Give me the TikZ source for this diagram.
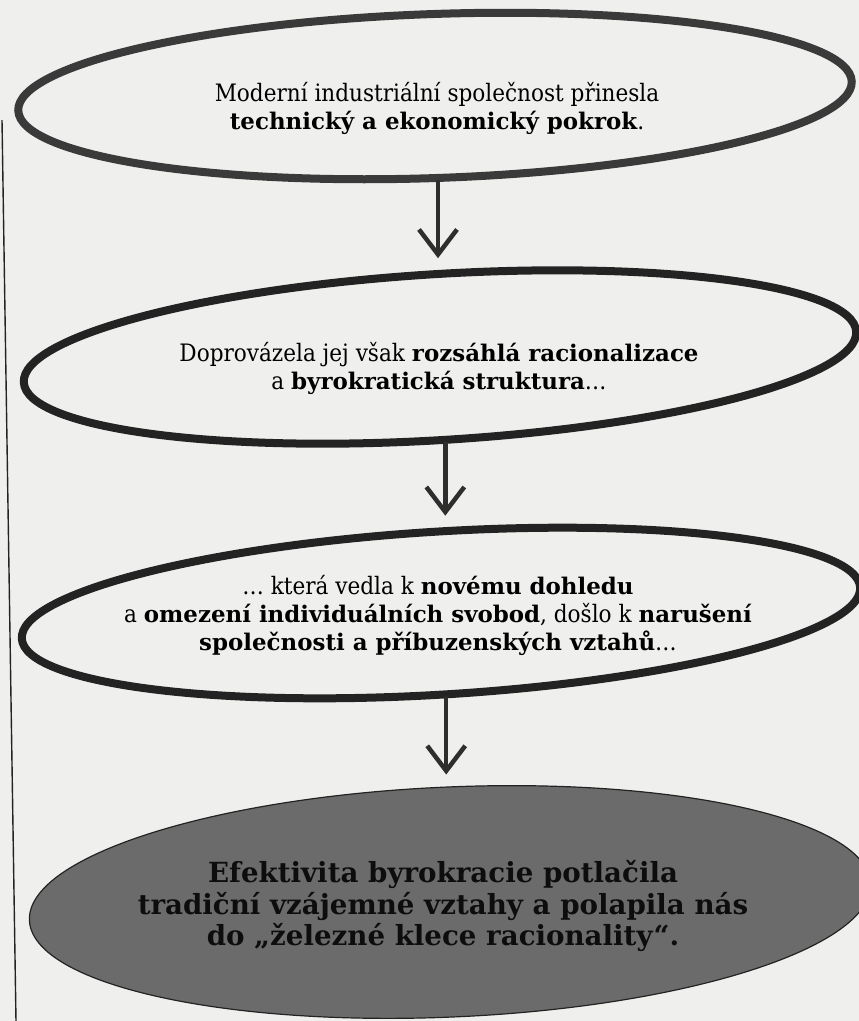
\documentclass[tikz,border=0pt]{standalone}
\usepackage{fontspec}
\setmainfont{DejaVu Serif Condensed}[BoldFont={DejaVu Serif Bold},BoldFeatures={Scale=0.955}]
\usetikzlibrary{shapes.geometric,arrows.meta}
\definecolor{paper}{HTML}{EFEFED}
\definecolor{ink}{HTML}{232323}
\definecolor{inkA}{HTML}{3A3A3A}
\definecolor{arrowink}{HTML}{2E2E2E}
\definecolor{cagegray}{HTML}{6B6B6B}
\begin{document}
\begin{tikzpicture}[x=1pt,y=-1pt,
  ell/.style={ellipse, draw=ink, line width=8pt, inner sep=0pt},
  txt/.style={align=center, font=\fontsize{24}{28}\selectfont, text=black, inner sep=0pt},
  txtbig/.style={align=center, font=\fontsize{29}{31.5}\selectfont\bfseries, text=black!95, inner sep=0pt},
  arr/.style={draw=arrowink, line width=4.5pt, line cap=round, shorten >=12pt,
    -{Straight Barb[length=25pt,width=38pt]}}
]
\useasboundingbox (0,0) rectangle (859,1021);
\fill[paper] (0,0) rectangle (859,1021);
% page edge
\draw[line width=1.4pt, ink] (2,120) -- (16,1021);

\node[ell, draw=inkA, minimum width=834pt, minimum height=164pt, rotate=2] (e1) at (435,96) {};
\node[ell, minimum width=834pt, minimum height=166pt, rotate=3.5] (e2) at (440,357) {};
\node[ell, minimum width=840pt, minimum height=163pt, rotate=3.5] (e3) at (441,613) {};
\node[ellipse, inner sep=0pt, fill=cagegray, draw=ink, line width=1.2pt, minimum width=842pt, minimum height=230pt, rotate=2.5] (e4) at (450,902) {};

\node[txt] (t1) at (437,108) {Moderní industriální společnost přinesla\\ \textbf{technický a ekonomický pokrok}.};
\node[txt] (t2) at (439,368) {Doprovázela jej však \textbf{rozsáhlá racionalizace}\\ a \textbf{byrokratická struktura}\ldots};
\node[txt] (t3) at (438,615) {\ldots{} která vedla k \textbf{novému dohledu}\\ a \textbf{omezení individuálních svobod}, došlo k \textbf{narušení}\\ \textbf{společnosti a příbuzenských vztahů}\ldots};
\node[txtbig] (t4) at (443,906) {Efektivita byrokracie potlačila\\ tradiční vzájemné vztahy a polapila nás\\ do „železné klece racionality“.};

\draw[arr] (e1.south) -- (e1.south |- e2.north);
\draw[arr] (e2.south) -- (e2.south |- e3.north);
\draw[arr] (e3.south) -- (e3.south |- e4.north);
\end{tikzpicture}
\end{document}
